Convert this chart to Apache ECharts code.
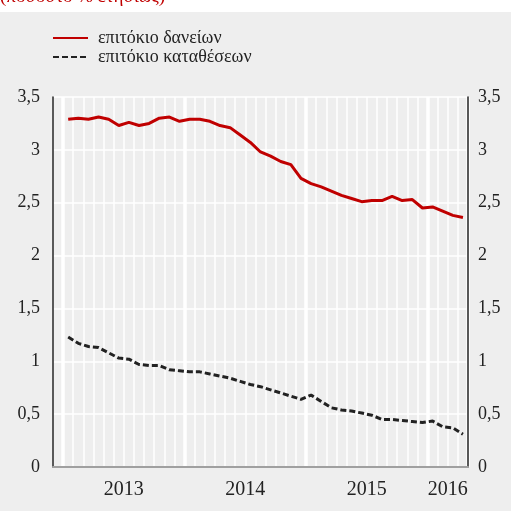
<!DOCTYPE html>
<html>
<head>
<meta charset="utf-8">
<script src="https://cdn.jsdelivr.net/npm/echarts@6/dist/echarts.min.js"></script>
<style>
  html, body { margin: 0; padding: 0; background: #eeeeee; }
  #chart { width: 511px; height: 511px; }
</style>
</head>
<body>
<div id="chart"></div>
<script>
// monthly categories, Jan 2013 - Apr 2016 (a blank slot in front, like the original)
const months = [""];
[2013, 2014, 2015, 2016].forEach(y => {
  for (let m = 1; m <= 12; m++) {
    if (y === 2016 && m > 4) break;
    months.push(y + "-" + (m < 10 ? "0" + m : m));
  }
});

const yearLabels = ["2013", "2014", "2015", "2016"];
const yearLabelPos = [7, 19, 31, 39]; // band units along the axis (centre of each year)

// επιτόκιο δανείων
const lendingRate = [
  3.29, 3.30, 3.29, 3.31, 3.29, 3.23, 3.26, 3.23, 3.25, 3.30, 3.31, 3.27,
  3.29, 3.29, 3.27, 3.23, 3.21, 3.14, 3.07, 2.98, 2.94, 2.89, 2.86, 2.73,
  2.68, 2.65, 2.61, 2.57, 2.54, 2.51, 2.52, 2.52, 2.56, 2.52, 2.53, 2.45,
  2.46, 2.42, 2.38, 2.36
];
// επιτόκιο καταθέσεων
const depositRate = [
  1.23, 1.17, 1.14, 1.13, 1.08, 1.03, 1.02, 0.97, 0.96, 0.96, 0.92, 0.91,
  0.90, 0.90, 0.88, 0.86, 0.84, 0.81, 0.78, 0.76, 0.73, 0.70, 0.67, 0.64,
  0.68, 0.62, 0.56, 0.54, 0.53, 0.51, 0.49, 0.45, 0.45, 0.44, 0.43, 0.42,
  0.435, 0.38, 0.37, 0.31
];

const serif = "Liberation Serif";
const isYearStart = (i) => months[i] && months[i].slice(5) === "01";
const commaFmt = (v) => String(v).replace(".", ",");

const myChart = echarts.init(document.getElementById("chart"), null, { renderer: "canvas" });

const option = {
  backgroundColor: "#eeeeee",
  animation: false,
  graphic: [
    { type: "rect", left: 0, top: 0, shape: { width: 511, height: 12 }, style: { fill: "#ffffff" } },
    {
      type: "text", left: 0, top: -12,
      style: { text: "(ποσοστό % ετησίως)", fill: "#c00000", font: "19px " + serif }
    }
  ],
  legend: {
    left: 47,
    top: 24,
    orient: "vertical",
    itemWidth: 35,
    itemHeight: 14,
    itemGap: 1,
    itemStyle: { color: "rgba(0,0,0,0)", borderWidth: 0, opacity: 0 },
    textStyle: { fontFamily: serif, fontSize: 18, color: "#222", padding: [0, 0, 0, 5] },
    data: ["επιτόκιο δανείων", "επιτόκιο καταθέσεων"]
  },
  grid: { left: 53, right: 43, top: 97, bottom: 44 },
  xAxis: [
    {
      type: "category",
      data: months,
      boundaryGap: true,
      axisLine: { lineStyle: { color: "#a0a0a0", width: 2 } },
      axisTick: {
        interval: (i) => i === 0 || isYearStart(i),
        length: 9,
        lineStyle: { color: "#333", width: 1.5 }
      },
      axisLabel: { show: false },
      splitLine: { show: true, interval: 0, lineStyle: { color: "#ffffff", width: 1.5 } }
    },
    {
      type: "category",
      data: months,
      position: "bottom",
      boundaryGap: true,
      axisLine: { show: false },
      axisTick: { show: false },
      axisLabel: { show: false },
      splitLine: { show: true, interval: (i) => isYearStart(i), lineStyle: { color: "#ffffff", width: 3.5 } }
    },
    {
      type: "value",
      position: "bottom",
      min: 0,
      max: months.length,
      axisLine: { show: false },
      axisTick: { show: false },
      splitLine: { show: false },
      axisLabel: {
        customValues: yearLabelPos,
        margin: 13,
        fontFamily: serif,
        fontSize: 20,
        color: "#222",
        formatter: (v) => yearLabels[yearLabelPos.indexOf(v)] || ""
      }
    }
  ],
  yAxis: [
    {
      type: "value",
      min: 0,
      max: 3.5,
      interval: 0.5,
      position: "left",
      axisLine: { show: true, lineStyle: { color: "#222", width: 1.5 } },
      axisTick: { show: false },
      axisLabel: { margin: 13, fontFamily: serif, fontSize: 18, color: "#222", formatter: commaFmt },
      splitLine: { show: true, lineStyle: { color: "#ffffff", width: 1.5 } }
    },
    {
      type: "value",
      min: 0,
      max: 3.5,
      interval: 0.5,
      position: "right",
      axisLine: { show: true, lineStyle: { color: "#222", width: 1.5 } },
      axisTick: { show: false },
      axisLabel: { margin: 10, fontFamily: serif, fontSize: 18, color: "#222", formatter: commaFmt },
      splitLine: { show: false }
    }
  ],
  series: [
    {
      name: "επιτόκιο δανείων",
      type: "line",
      xAxisIndex: 0,
      yAxisIndex: 0,
      data: [null].concat(lendingRate),
      showSymbol: false,
      symbol: "none",
      lineStyle: { color: "#c00000", width: 3 },
      itemStyle: { color: "#c00000" }
    },
    {
      name: "επιτόκιο καταθέσεων",
      type: "line",
      xAxisIndex: 0,
      yAxisIndex: 0,
      data: [null].concat(depositRate),
      showSymbol: false,
      symbol: "none",
      lineStyle: { color: "#222222", width: 3, type: [6, 3] },
      itemStyle: { color: "#222222" }
    }
  ]
};

option && myChart.setOption(option);
</script>
</body>
</html>
